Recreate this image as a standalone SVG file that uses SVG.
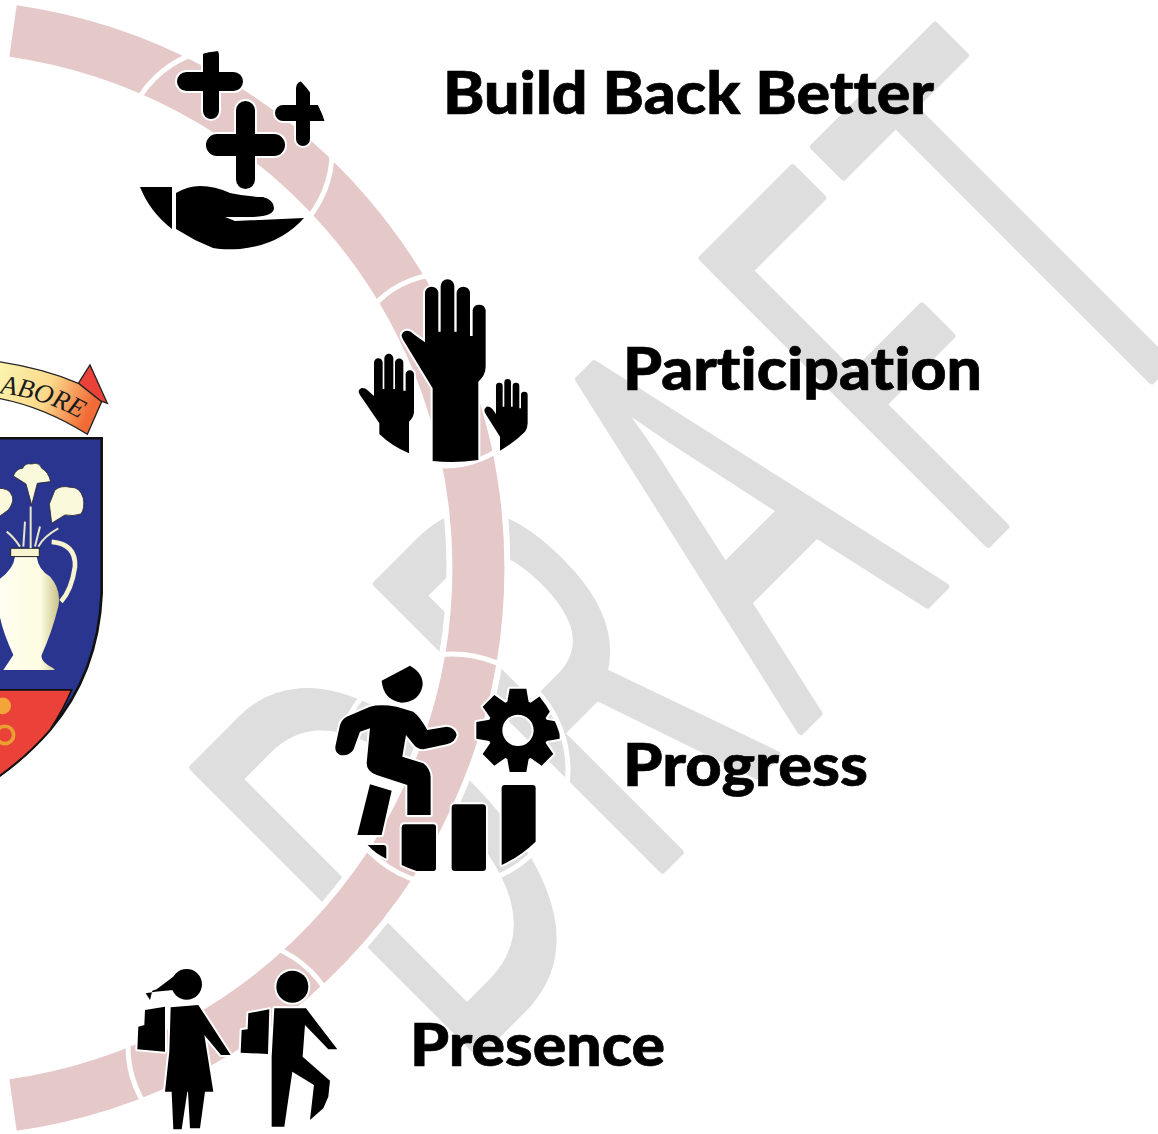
<svg xmlns="http://www.w3.org/2000/svg" width="1158" height="1134" viewBox="0 0 1158 1134">
<style>
.wm{font-family:"Open Sans",sans-serif;font-weight:400;font-size:565px;fill:#dedede;stroke:#dedede;stroke-width:8px;stroke-linejoin:round}
.lb{font-family:Lato,"Liberation Sans",sans-serif;font-weight:900;font-size:59px;fill:#000;stroke:#000;stroke-width:.7px;font-variant-ligatures:none}
.ring{fill:none;stroke:#fff;stroke-width:5}
.ic{fill:#000;stroke:#fff;stroke-width:4px;paint-order:stroke;stroke-linejoin:round}
.icz{fill:#000;stroke:#fff;stroke-width:12px;paint-order:stroke;stroke-linejoin:round}
.pet{fill:#fbf9dc;stroke:#2a2a2a;stroke-width:2.500}
</style>
<defs>
<linearGradient id="rib" x1="0" x2="1" y1="0" y2="0.3"><stop offset="0" stop-color="#faf6b0"/><stop offset="0.55" stop-color="#fbd98a"/><stop offset="1" stop-color="#f26a35"/></linearGradient>
<linearGradient id="vase" x1="0" x2="1" y1="0" y2="0"><stop offset="0" stop-color="#fffff2"/><stop offset="0.7" stop-color="#fdfce0"/><stop offset="1" stop-color="#c9c188"/></linearGradient>
<clipPath id="cprog"><circle cx="396" cy="354" r="339"/></clipPath>
<clipPath id="cb"><circle cx="228" cy="152" r="102"/></clipPath>
<path id="ribbonline" d="M-8 160Q130 170 262 250"/>
<path id="gear" fill-rule="evenodd" d="M-32-86L-25-125L25-125L32-86L38-83L71-106L106-71L83-38L86-32L125-25L125 25L86 32L83 38L106 71L71 106L38 83L32 86L25 125L-25 125L-32 86L-38 83L-71 106L-106 71L-83 38L-86 32L-125 25L-125-25L-86-32L-83-38L-106-71L-71-106L-38-83ZM47 0A47 47 0 1 0-47 0A47 47 0 1 0 47 0Z"/>
</defs>
<rect width="1158" height="1134" fill="#fff"/>
<g id="watermark"><text class="wm" transform="rotate(-45) scale(0.58 1)" y="1083" x="-758 -310 83 484 806">DRAFT</text></g>
<g id="connectors">
<path d="M13 31A542.500 542.500 0 0 1 13 1105" fill="none" stroke="#fff" stroke-width="64"/>
<path d="M13 31A542.500 542.500 0 0 1 13 1105" fill="none" stroke="#e5c9c9" stroke-width="52"/>
</g>
<g id="crest" transform="scale(0.3333) translate(0 1020)">
<path d="M-5 295H305V760Q295 1000 150 1170Q80 1250-5 1310Z" fill="#2a3590" stroke="#111" stroke-width="8"/>
<path d="M-5 1050H215Q190 1110 150 1170Q80 1250-5 1310Z" fill="#ea4238" stroke="#111" stroke-width="5"/>
<circle cx="8" cy="1098" r="25" fill="#f4a53a"/><circle cx="15" cy="1185" r="26" fill="none" stroke="#e8a030" stroke-width="11"/>
<path d="M155 606Q228 612 225 680Q215 750 183 785" fill="none" stroke="#f7f4cf" stroke-width="14"/>
<path d="M-5 720Q40 690 45 650H110Q115 690 150 710Q185 750 175 800Q155 880 125 945Q120 965 160 985L165 990H10L40 945Q0 860-5 800Z" fill="url(#vase)"/>
<path d="M32 625H118V650H32Z" fill="#f7f4cf" stroke="#222" stroke-width="3"/>
<path d="M92 500V625M60 620Q40 590 20 575M115 620Q130 590 175 565M70 620L75 545M105 620L120 560" fill="none" stroke="#e8e6c8" stroke-width="6"/>
<path class="pet" d="M40 408Q50 385 68 385Q75 368 95 372Q118 365 125 385Q145 395 152 425L112 430L95 495L78 432Z"/>
<path class="pet" d="M148 492L165 450Q185 435 210 442Q240 440 250 475Q255 505 243 522Q218 530 195 525L155 550Z"/>
<path class="pet" d="M-5 445Q25 445 32 460Q48 480 25 510L-5 532Z"/>
<path d="M235 130L270 75L322 190L300 182Z" fill="#ea4238" stroke="#222" stroke-width="4"/>
<path d="M-5 65Q130 85 235 130L305 185L262 283Q130 200-5 175Z" fill="url(#rib)" stroke="#222" stroke-width="4"/>
<text font-family="Liberation Serif,serif" font-size="80" font-style="italic" fill="#1a1a1a"><textPath href="#ribbonline" startOffset="8">ABORE</textPath></text>
</g>
<g id="node-build-back-better">
<g clip-path="url(#cb)"><path class="ic" d="M203 55a8 8 0 0 1 16 0V72H233.500a9.500 9.500 0 0 1 0 19H219V111a8 8 0 0 1-16 0V91H186.500a9.500 9.500 0 0 1 0-19H203ZM296 88a7 7 0 0 1 14 0V105H327a8 8 0 0 1 0 16H310V139a7 7 0 0 1-14 0V121H283a8 8 0 0 1 0-16H296ZM236 110.500a9.500 9.500 0 0 1 19 0V134H274a11 11 0 0 1 0 22H255V179.500a9.500 9.500 0 0 1-19 0V156H217a11 11 0 0 1 0-22H236ZM176 193Q188 186 200 186Q215 186 230 193Q248 197 263 197Q274 200 274 208Q274 216 253 217H225L235 221L304 218Q280 245 240 249Q222 250 213 248L195 240L176 229ZM140 187H172V229Q150 212 140 187Z"/></g>
<circle class="ring" cx="228" cy="152" r="104"/>
<text class="lb" x="443" y="114" textLength="491" lengthAdjust="spacingAndGlyphs">Build Back Better</text>
</g>
<g id="node-participation">
<circle class="ring" cx="445" cy="370" r="96"/>
<g transform="translate(340 260) scale(0.3333)" class="icz">
<path d="M255 100a20 20 0 0 1 40 0V215H302V78a20 20 0 0 1 41 0V215H350V100a20 20 0 0 1 40 0V228H398V150a20 20 0 0 1 39 0V320Q437 345 415 365V600Q345 610 278 603V385L190 240Q178 222 195 213Q210 210 220 222L255 247Z"/>
<path d="M102 308a13 13 0 0 1 26 0V387H133V295a13.500 13.500 0 0 1 27 0V387H165V308a12.500 12.500 0 0 1 25 0V392H197V343a12.500 12.500 0 0 1 25 0V455Q222 470 207 485V580Q155 558 118 522V490L60 405Q50 390 65 384Q75 383 82 390L102 408Z"/>
<path d="M468 378a10 10 0 0 1 20 0V440H493V367a10 10 0 0 1 20 0V440H518V378a10 10 0 0 1 20 0V445H543V405a10 10 0 0 1 20 0V490Q563 505 555 515Q520 550 480 572V530L437 462Q428 448 440 440Q450 438 458 448L468 462Z"/>
</g>
<text class="lb" x="623" y="390" textLength="359" lengthAdjust="spacingAndGlyphs">Participation</text>
</g>
<g id="node-progress">
<circle class="ring" cx="452" cy="770" r="116"/>
<g transform="translate(320 650) scale(0.3333)" class="icz">
<path d="M185 92L270 47Q310 70 308 105Q300 155 245 158Q190 150 185 92Z"/>
<path d="M80 200L150 170Q180 162 230 170L280 185Q300 200 322 240L380 230Q405 232 410 255Q405 278 380 283L310 298Q290 298 278 280L258 255L247 320L310 340Q330 355 332 380V495H262V405L170 375Q140 365 140 340L150 235L120 245L100 300Q85 320 60 315Q42 305 47 285L60 225Q65 208 80 200Z"/>
<path d="M150 403L215 422L185 555H112Z"/>
<g clip-path="url(#cprog)"><use href="#gear" transform="translate(594 241)"/></g>
<path d="M255 523H340Q348 523 348 531V655Q348 663 340 663H290Q265 655 245 645V533Q245 523 255 523Z"/>
<rect x="395" y="463" width="103" height="200" rx="10"/>
<path d="M555 405H637Q647 405 647 415V575Q600 620 545 645V415Q545 405 555 405Z"/>
<path d="M143 585H190Q199 585 199 595V626Q165 610 143 585Z"/>
</g>
<text class="lb" x="623" y="786" textLength="245" lengthAdjust="spacingAndGlyphs">Progress</text>
</g>
<g id="node-presence">
<circle class="ring" cx="235" cy="1047" r="107"/>
<g transform="translate(110 950) scale(0.3333)" class="icz">
<path d="M205 68Q170 95 140 118L127 122L120 150L107 130L135 125L190 120ZM276 103a46 46 0 1 0-92 0a46 46 0 1 0 92 0Z"/>
<path d="M105 180L165 170V305L82 298L85 230L103 225Z"/>
<path d="M182 172L265 165L362 315H333L283 255L310 425H285L270 535H240L234 425H232L215 538H190L185 425H165L178 305Z"/>
<circle cx="547" cy="110" r="48"/>
<path d="M415 190L478 178L474 312L392 308L395 240L413 238Z"/>
<path d="M493 175H588L682 298H655L585 225L578 320L660 392L655 440L640 475L600 510L612 405L547 365L523 530H485V320Z"/>
</g>
<text class="lb" x="410" y="1066" textLength="255" lengthAdjust="spacingAndGlyphs">Presence</text>
</g>
</svg>
